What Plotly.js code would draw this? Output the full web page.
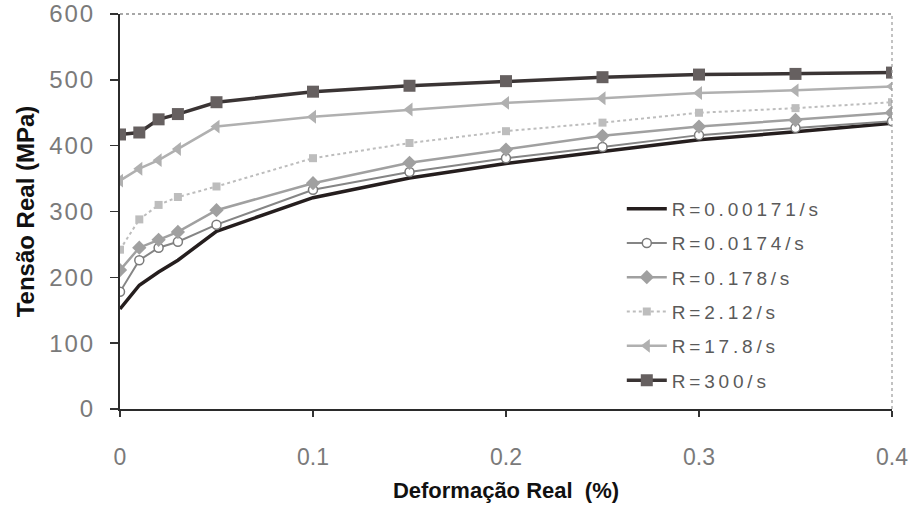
<!DOCTYPE html>
<html>
<head>
<meta charset="utf-8">
<script src="https://cdn.plot.ly/plotly-3.0.1.min.js"></script>
<style>
  html, body { margin: 0; padding: 0; background: #fff; }
  #chart { width: 908px; height: 510px; }
  .ytick text { letter-spacing: 2px; }
  .legendtext { letter-spacing: 3.8px; }
</style>
</head>
<body>
<div id="chart"></div>
<script>
// Strain (x) values
const strain = [0, 0.01, 0.02, 0.03, 0.05, 0.1, 0.15, 0.2, 0.25, 0.3, 0.35, 0.4];

// True stress (MPa) for each strain rate
const r00171 = [152, 188, 208, 226, 270, 321, 351, 373, 391, 409, 421, 434];
const r0174  = [178, 226, 245, 254, 280, 333, 360, 381, 398, 416, 427, 437];
const r178   = [211, 245, 257, 269, 302, 343, 374, 394, 415, 429, 439, 450];
const r212   = [242, 288, 310, 322, 338, 381, 404, 422, 435, 450, 457, 466];
const r178b  = [347, 365, 378, 395, 429, 444, 455, 465, 472, 480, 484, 490];
const r300   = [417, 420, 440, 448, 466, 482, 491, 498, 504, 508, 509, 511];

const seriesNames = ['R=0.00171/s', 'R=0.0174/s', 'R=0.178/s', 'R=2.12/s', 'R=17.8/s', 'R=300/s'];
const xTickVals = [0, 0.1, 0.2, 0.3, 0.4];
const xTickText = ['0', '0.1', '0.2', '0.3', '0.4'];
const yTickVals = [0, 100, 200, 300, 400, 500, 600];
const yTickText = ['0', '100', '200', '300', '400', '500', '600'];

const traces = [
  { x: strain, y: r00171, name: seriesNames[0], mode: 'lines',
    line: { color: '#251e1e', width: 3.5 } },
  { x: strain, y: r0174, name: seriesNames[1], mode: 'lines+markers',
    line: { color: '#858585', width: 2 },
    marker: { symbol: 'circle', size: 9, color: '#ffffff', line: { color: '#7a7a7a', width: 1.5 } } },
  { x: strain, y: r178, name: seriesNames[2], mode: 'lines+markers',
    line: { color: '#a0a0a0', width: 2.5 },
    marker: { symbol: 'diamond', size: 11, color: '#a0a0a0' } },
  { x: strain, y: r212, name: seriesNames[3], mode: 'lines+markers',
    line: { color: '#bdbdbd', width: 2, dash: 'dot' },
    marker: { symbol: 'square', size: 8, color: '#bdbdbd' } },
  { x: strain, y: r178b, name: seriesNames[4], mode: 'lines+markers',
    line: { color: '#b0b0b0', width: 2.5 },
    marker: { symbol: 'triangle-left', size: 12, color: '#b0b0b0' } },
  { x: strain, y: r300, name: seriesNames[5], mode: 'lines+markers',
    line: { color: '#3a3434', width: 3.5 },
    marker: { symbol: 'square', size: 12, color: '#666060' } }
];
traces.forEach((t, i) => { t.legendgroup = 'g' + i; });

const layout = {
  width: 908, height: 510,
  margin: { l: 120, r: 16, t: 14, b: 101 },
  paper_bgcolor: '#ffffff', plot_bgcolor: '#ffffff',
  font: { family: 'Liberation Sans, Arial, sans-serif', color: '#777' },
  showlegend: true,
  legend: {
    x: 0.65, y: 0.555, xanchor: 'left', yanchor: 'top',
    bgcolor: 'rgba(0,0,0,0)', borderwidth: 0,
    font: { family: 'Liberation Sans, Arial, sans-serif', size: 19, color: '#5a5a5a' },
    tracegroupgap: 6.6, itemwidth: 40
  },
  xaxis: {
    range: [0, 0.4], tickvals: xTickVals, ticktext: xTickText,
    ticks: 'outside', ticklen: 6, tickwidth: 1.5, tickcolor: '#333',
    showline: true, linecolor: '#2b2b2b', linewidth: 2,
    showgrid: false, zeroline: false, automargin: false,
    ticklabelstandoff: 20, ticklabeloverflow: 'allow',
    tickfont: { family: 'Liberation Sans, Arial, sans-serif', size: 23, color: '#7a7a7a' },
    title: { text: 'Deformação Real\u00a0 (%)', standoff: 14,
             font: { family: 'Liberation Sans, Arial, sans-serif', size: 22, color: '#111', weight: 'bold' } }
  },
  yaxis: {
    range: [0, 600], tickvals: yTickVals, ticktext: yTickText, ticksuffix: '\u00a0',
    ticks: 'outside', ticklen: 8, tickwidth: 1.5, tickcolor: '#333',
    showline: true, linecolor: '#2b2b2b', linewidth: 2,
    showgrid: false, zeroline: false, automargin: false,
    ticklabelstandoff: 10, ticklabeloverflow: 'allow',
    tickfont: { family: 'Liberation Sans, Arial, sans-serif', size: 24, color: '#7a7a7a' },
    title: { text: 'Tensão Real (MPa)', standoff: 8,
             font: { family: 'Liberation Sans, Arial, sans-serif', size: 24, color: '#111', weight: 'bold' } }
  },
  shapes: [
    { type: 'line', xref: 'paper', yref: 'paper', x0: 0, x1: 1, y0: 1, y1: 1,
      line: { color: '#8a8a8a', width: 1.5, dash: 'dot' } },
    { type: 'line', xref: 'paper', yref: 'paper', x0: 1, x1: 1, y0: 0, y1: 1,
      line: { color: '#9a9a9a', width: 1.2, dash: 'dot' } }
  ]
};

Plotly.newPlot('chart', traces, layout, { staticPlot: true, displayModeBar: false });
</script>
</body>
</html>
